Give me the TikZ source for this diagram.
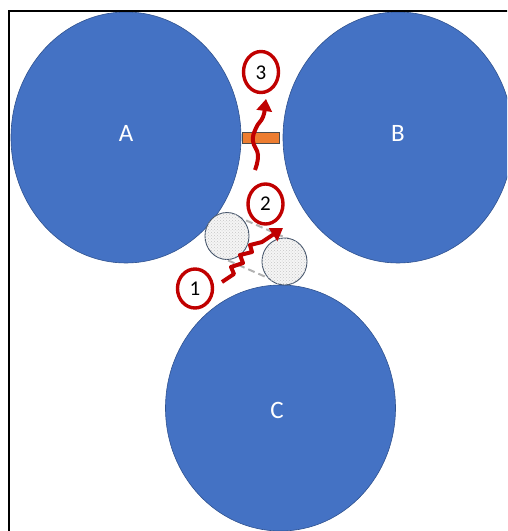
\documentclass[tikz,border=0pt]{standalone}
\usepackage{fontspec}
\setmainfont{Carlito}
\usetikzlibrary{arrows.meta,patterns}
\definecolor{blueA}{HTML}{4472C4}
\definecolor{blueB}{HTML}{2F528F}
\definecolor{redA}{HTML}{C00000}
\definecolor{orangeA}{HTML}{ED7D31}
\definecolor{slateA}{HTML}{44546A}
\tikzset{
  big/.style={draw=blueB,line width=0.6pt,fill=blueA},
  biglabel/.style={text=white,font=\fontsize{25}{25}\selectfont},
  small/.style={draw=slateA,line width=0.9pt,fill=gray!8,postaction={pattern=crosshatch dots,pattern color=gray!45}},
  numring/.style={draw=redA,line width=3.4pt,fill=white},
  numtext/.style={font=\fontsize{21}{21}\selectfont},
  squig/.style={draw=redA,line width=4pt,-{Triangle[width=15pt,length=12pt]}},
  tangent/.style={gray!60,line width=2pt,dash pattern=on 7pt off 4pt},
}
\begin{document}
\begin{tikzpicture}[x=1pt,y=-1pt]
\useasboundingbox (0,0) rectangle (507,531);
\clip (0,0) rectangle (507,531);
% big circles
\fill[big] (126,137.5) ellipse [x radius=115,y radius=125.5];
\fill[big] (398,137.5) ellipse [x radius=115,y radius=125.5];
\fill[big] (280.5,408) ellipse [x radius=115,y radius=123];
\node[biglabel] (A) at (126,133) {A};
\node[biglabel] (B) at (398,133) {B};
\node[biglabel] (C) at (277,410) {C};
% frame
\draw[line width=1.6pt] (9,540) -- (9,11) -- (520,11);
% orange bar
\draw[fill=orangeA,draw=black!70,line width=0.6pt] (242.5,132) rectangle (279,143);
% dashed tangents
\draw[tangent] (236,216) -- (293,241);
\draw[tangent] (218,256) -- (275,281);
% small circles
\path[small] (227,236) ellipse [x radius=22,y radius=23.5];
\path[small] (284.5,261.5) ellipse [x radius=22.5,y radius=23.5];
% squiggly arrows
\draw[squig,line join=round] (222,282) -- (234,274) -- (231,267) -- (243,263) -- (240,255) -- (252,252) -- (250,245) -- (262,242) -- (283,228);
\draw[squig] plot[smooth,tension=0.8] coordinates {(255,170) (258,155) (253,141) (256,128) (263,117) (265,106)} -- (266,99);
% numbered circles
\path[numring] (195,288.5) ellipse [x radius=17.5,y radius=19.5];
\node[numtext] (n1) at (195,289) {1};
\path[numring] (265.5,204) ellipse [x radius=17.5,y radius=20];
\node[numtext] (n2) at (265.5,204) {2};
\path[numring] (261,72) ellipse [x radius=17.5,y radius=20.5];
\node[numtext] (n3) at (261,73) {3};
\end{tikzpicture}
\end{document}
